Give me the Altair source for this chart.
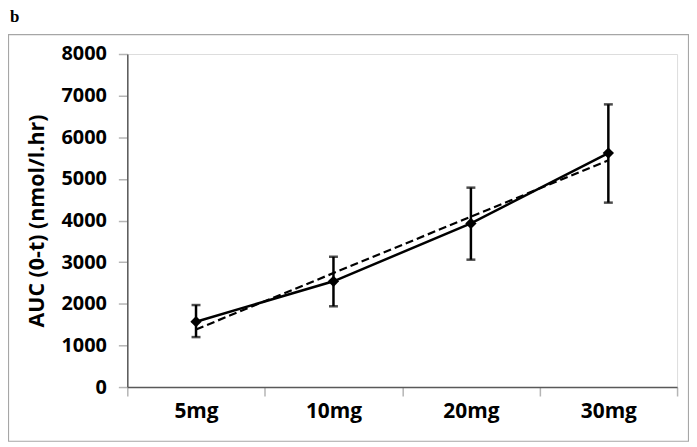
import json
import altair as alt
import pandas as pd

doses = ["5mg", "10mg", "20mg", "30mg"]
dose_idx = [1, 2, 3, 4]
auc_mean = [1570, 2540, 3930, 5620]
auc_low = [1200, 1940, 3060, 4430]
auc_high = [1970, 3130, 4790, 6790]
y_ticks = [0, 1000, 2000, 3000, 4000, 5000, 6000, 7000, 8000]

df = pd.DataFrame({"dose": doses, "idx": dose_idx, "auc": auc_mean,
                   "low": auc_low, "high": auc_high})

FONT = "Open Sans"
W, H = 553, 335

label_expr = f"datum.value % 1 === 0 ? {json.dumps(doses)}[datum.value - 1] : ''"

x_enc = alt.X(
    "idx:Q",
    scale=alt.Scale(domain=[0.5, 4.5], nice=False, zero=False),
    axis=alt.Axis(
        values=[0.5, 1, 1.5, 2, 2.5, 3, 3.5, 4, 4.5],
        labelExpr=label_expr,
        labelOverlap=False,
        labelFlush=False,
        tickOpacity={"condition": {"test": "datum.value % 1 === 0", "value": 0}, "value": 1},
        grid=False,
        tickSize=9,
        tickWidth=1.5,
        tickColor="#b5b5b5",
        domainColor="#595959",
        domainWidth=1.5,
        labelFont=FONT,
        labelFontSize=21,
        labelFontWeight="bold",
        labelColor="#000000",
        labelPadding=5,
        title=None,
    ),
)
y_enc = alt.Y(
    "auc:Q",
    scale=alt.Scale(domain=[0, 8000], nice=False),
    axis=alt.Axis(
        values=y_ticks,
        format="d",
        grid=False,
        tickSize=9,
        tickWidth=1.5,
        tickColor="#b5b5b5",
        domainColor="#595959",
        domainWidth=1.5,
        labelFont=FONT,
        labelFontSize=20,
        labelFontWeight="bold",
        labelColor="#000000",
        labelPadding=12,
        title="AUC (0-t) (nmol/l.hr)",
        titleFont=FONT,
        titleFontSize=21.5,
        titleFontWeight="bold",
        titleColor="#000000",
        titlePadding=13,
    ),
)

base = alt.Chart(df)

frame = alt.Chart(pd.DataFrame({"k": [0]})).mark_rect(
    fill="transparent", stroke="#a6a6a6", strokeWidth=1.2
).encode(
    x=alt.value(-119.5), x2=alt.value(564.5),
    y=alt.value(-19.5), y2=alt.value(389.5),
)

panel_label = alt.Chart(pd.DataFrame({"t": ["b"]})).mark_text(
    font="Liberation Serif", fontWeight="bold", fontSize=17,
    align="left", baseline="alphabetic", color="#000000",
).encode(x=alt.value(-118), y=alt.value(-32), text="t:N")

trend = base.transform_regression("idx", "auc").mark_line(
    color="#000000", strokeWidth=2.2, strokeDash=[8, 4]
).encode(x=x_enc, y=y_enc)

solid = base.mark_line(color="#000000", strokeWidth=2.5).encode(x=x_enc, y=y_enc)

err = base.mark_rule(color="#000000", strokeWidth=2.5).encode(
    x=x_enc, y=alt.Y("low:Q"), y2="high:Q"
)
cap_lo = base.mark_tick(color="#000000", orient="horizontal", size=9, thickness=2.5).encode(
    x=x_enc, y=alt.Y("low:Q")
)
cap_hi = base.mark_tick(color="#000000", orient="horizontal", size=9, thickness=2.5).encode(
    x=x_enc, y=alt.Y("high:Q")
)
pts = base.mark_point(shape="diamond", filled=True, color="#000000", size=130, opacity=1).encode(
    x=x_enc, y=y_enc
)

chart = alt.layer(frame, panel_label, trend, solid, err, cap_lo, cap_hi, pts).properties(
    width=W, height=H,
    autosize=alt.AutoSizeParams(type="none"),
    padding={"left": 120, "top": 45, "right": 12, "bottom": 55},
).configure_view(stroke="#262626", strokeWidth=1.5).configure(background="#ffffff")

chart.save("out.html", embed_options={"renderer": "svg", "actions": False})
